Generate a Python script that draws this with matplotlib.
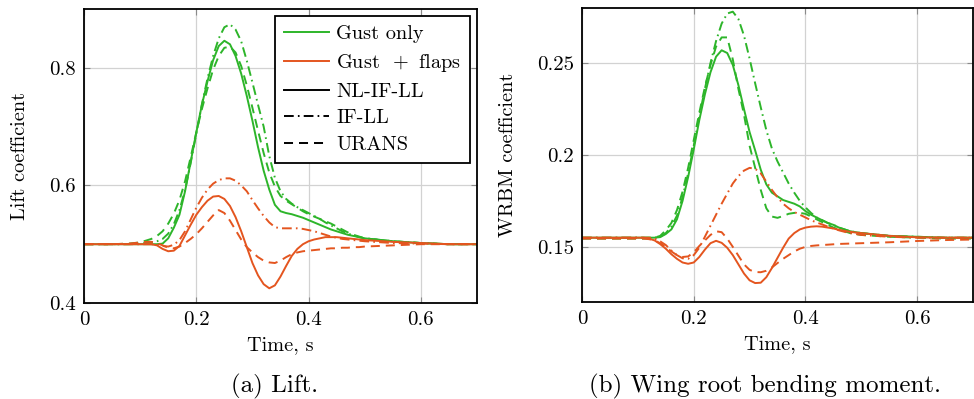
import matplotlib
matplotlib.use("Agg")
import matplotlib.pyplot as plt
from matplotlib.lines import Line2D
from matplotlib.ticker import FuncFormatter

plt.rcParams['font.family'] = 'serif'
plt.rcParams['font.serif'] = ['cmr10']
plt.rcParams['axes.formatter.use_mathtext'] = True
plt.rcParams['mathtext.fontset'] = 'cm'
plt.rcParams['lines.scale_dashes'] = False

GREEN = '#2db52a'
ORANGE = '#e4551f'

# time samples, s
time = [0, 0.05, 0.08, 0.10, 0.11, 0.12, 0.13, 0.14, 0.15, 0.16,
        0.17, 0.18, 0.19, 0.20, 0.21, 0.22, 0.23, 0.24, 0.25, 0.26,
        0.27, 0.28, 0.29, 0.30, 0.31, 0.32, 0.33, 0.34, 0.35, 0.36,
        0.37, 0.38, 0.39, 0.40, 0.41, 0.42, 0.43, 0.44, 0.45, 0.46,
        0.47, 0.48, 0.49, 0.50, 0.55, 0.60, 0.65, 0.70]

# lift coefficient, gust only
lift_gust_nl = [0.5, 0.5, 0.5, 0.5, 0.5, 0.5, 0.5, 0.501, 0.51, 0.528,
                0.55, 0.59, 0.64, 0.69, 0.737, 0.777, 0.813, 0.837, 0.846, 0.84,
                0.82, 0.79, 0.752, 0.71, 0.665, 0.625, 0.593, 0.567, 0.556, 0.553,
                0.551, 0.548, 0.545, 0.541, 0.537, 0.533, 0.529, 0.525, 0.522, 0.519,
                0.516, 0.514, 0.512, 0.51, 0.505, 0.502, 0.5, 0.5]
lift_gust_ifll = [0.5, 0.5, 0.5, 0.501, 0.502, 0.503, 0.505, 0.509, 0.518, 0.534,
                  0.558, 0.592, 0.638, 0.688, 0.738, 0.782, 0.82, 0.85, 0.869, 0.874,
                  0.865, 0.845, 0.812, 0.775, 0.737, 0.70, 0.65, 0.613, 0.59, 0.577,
                  0.569, 0.563, 0.558, 0.553, 0.548, 0.543, 0.537, 0.532, 0.527, 0.522,
                  0.518, 0.515, 0.512, 0.51, 0.505, 0.502, 0.5, 0.5]
lift_gust_urans = [0.5, 0.5, 0.501, 0.503, 0.506, 0.509, 0.514, 0.522, 0.535, 0.552,
                   0.575, 0.607, 0.648, 0.69, 0.73, 0.765, 0.797, 0.82, 0.834, 0.836,
                   0.826, 0.803, 0.77, 0.732, 0.693, 0.655, 0.622, 0.598, 0.582, 0.574,
                   0.568, 0.562, 0.556, 0.551, 0.547, 0.543, 0.539, 0.535, 0.53, 0.525,
                   0.52, 0.516, 0.513, 0.51, 0.505, 0.502, 0.5, 0.5]

# lift coefficient, gust + flaps
lift_flap_nl = [0.5, 0.5, 0.5, 0.5, 0.5, 0.5, 0.498, 0.492, 0.488, 0.489,
                0.497, 0.515, 0.533, 0.55, 0.563, 0.574, 0.581, 0.582, 0.577, 0.565,
                0.546, 0.522, 0.495, 0.468, 0.447, 0.432, 0.425, 0.43, 0.445, 0.463,
                0.48, 0.492, 0.5, 0.505, 0.508, 0.51, 0.512, 0.512, 0.512, 0.511,
                0.51, 0.509, 0.508, 0.507, 0.504, 0.502, 0.5, 0.5]
lift_flap_ifll = [0.5, 0.5, 0.5, 0.5, 0.5, 0.5, 0.499, 0.497, 0.496, 0.499,
                  0.507, 0.522, 0.542, 0.562, 0.579, 0.593, 0.603, 0.609, 0.612, 0.612,
                  0.608, 0.6, 0.59, 0.575, 0.561, 0.548, 0.537, 0.529, 0.527, 0.527,
                  0.527, 0.527, 0.526, 0.524, 0.522, 0.519, 0.516, 0.513, 0.511, 0.509,
                  0.508, 0.507, 0.506, 0.505, 0.502, 0.501, 0.5, 0.5]
lift_flap_urans = [0.5, 0.5, 0.501, 0.503, 0.504, 0.504, 0.502, 0.498, 0.494, 0.493,
                   0.496, 0.502, 0.509, 0.517, 0.527, 0.538, 0.549, 0.558, 0.553, 0.54,
                   0.524, 0.508, 0.495, 0.486, 0.478, 0.472, 0.469, 0.468, 0.472, 0.478,
                   0.483, 0.486, 0.488, 0.489, 0.49, 0.491, 0.492, 0.493, 0.493, 0.494,
                   0.494, 0.495, 0.495, 0.496, 0.498, 0.5, 0.5, 0.5]

# WRBM coefficient, gust only
wrbm_gust_nl = [0.155, 0.155, 0.155, 0.155, 0.155, 0.155, 0.155, 0.1553, 0.157, 0.1595,
                0.165, 0.175, 0.188, 0.203, 0.219, 0.233, 0.245, 0.2535, 0.257, 0.2555,
                0.249, 0.238, 0.225, 0.2125, 0.2025, 0.192, 0.184, 0.1795, 0.1775, 0.1755,
                0.1745, 0.1735, 0.172, 0.1695, 0.1675, 0.166, 0.1645, 0.163, 0.162, 0.1605,
                0.1595, 0.1585, 0.158, 0.1575, 0.156, 0.1555, 0.155, 0.155]
wrbm_gust_ifll = [0.155, 0.155, 0.155, 0.155, 0.155, 0.155, 0.155, 0.1555, 0.1575, 0.161,
                  0.167, 0.177, 0.19, 0.205, 0.221, 0.236, 0.25, 0.262, 0.2715, 0.277,
                  0.278, 0.274, 0.265, 0.2525, 0.239, 0.226, 0.2135, 0.2035, 0.1965, 0.1905,
                  0.1845, 0.1795, 0.175, 0.1715, 0.1685, 0.166, 0.1645, 0.163, 0.162, 0.1605,
                  0.1595, 0.1585, 0.158, 0.1575, 0.156, 0.1555, 0.155, 0.155]
wrbm_gust_urans = [0.1545, 0.1545, 0.1545, 0.1545, 0.1545, 0.1545, 0.155, 0.156, 0.159, 0.163,
                   0.17, 0.18, 0.193, 0.208, 0.223, 0.237, 0.249, 0.259, 0.264, 0.264,
                   0.252, 0.236, 0.222, 0.205, 0.193, 0.181, 0.171, 0.1665, 0.1658, 0.1668,
                   0.168, 0.1685, 0.1685, 0.168, 0.1665, 0.165, 0.1635, 0.162, 0.1605, 0.1595,
                   0.1585, 0.1575, 0.157, 0.1565, 0.1555, 0.155, 0.1545, 0.1545]

# WRBM coefficient, gust + flaps
wrbm_flap_nl = [0.155, 0.155, 0.155, 0.155, 0.155, 0.1545, 0.1535, 0.1515, 0.149, 0.146,
                0.1435, 0.1415, 0.1408, 0.1415, 0.1445, 0.1485, 0.152, 0.1533, 0.1522, 0.1495,
                0.1455, 0.1405, 0.1355, 0.1318, 0.1303, 0.1305, 0.1335, 0.1385, 0.144, 0.1495,
                0.1545, 0.1575, 0.1595, 0.1605, 0.161, 0.1612, 0.161, 0.1605, 0.16, 0.1593,
                0.1587, 0.1582, 0.1578, 0.1575, 0.156, 0.1552, 0.155, 0.155]
wrbm_flap_ifll = [0.155, 0.155, 0.155, 0.155, 0.155, 0.155, 0.1545, 0.153, 0.151, 0.148,
                  0.1455, 0.1438, 0.1435, 0.1455, 0.1495, 0.1555, 0.1615, 0.1675, 0.1735, 0.179,
                  0.1845, 0.1885, 0.1915, 0.193, 0.1925, 0.19, 0.1855, 0.181, 0.177, 0.1735,
                  0.171, 0.169, 0.1675, 0.166, 0.1645, 0.1633, 0.1622, 0.161, 0.16, 0.159,
                  0.1582, 0.1575, 0.157, 0.1565, 0.1555, 0.155, 0.155, 0.155]
wrbm_flap_urans = [0.1545, 0.1545, 0.1545, 0.1545, 0.1545, 0.1542, 0.1535, 0.152, 0.15, 0.1475,
                   0.1455, 0.1445, 0.1448, 0.147, 0.1505, 0.1535, 0.1565, 0.1585, 0.158, 0.1545,
                   0.15, 0.1452, 0.1405, 0.1375, 0.1363, 0.1362, 0.137, 0.1388, 0.1412, 0.1435,
                   0.1455, 0.1475, 0.149, 0.15, 0.1505, 0.1508, 0.151, 0.1512, 0.1514, 0.1516,
                   0.1517, 0.1518, 0.1519, 0.152, 0.1525, 0.1532, 0.1537, 0.154]

x_ticks = [0, 0.2, 0.4, 0.6]
lift_ticks = [0.4, 0.6, 0.8]
wrbm_ticks = [0.15, 0.2, 0.25]

LW = 1.4
STYLES = {
    'nl': dict(linestyle='-'),
    'ifll': dict(linestyle=(0, (7, 3, 1.2, 3))),
    'urans': dict(linestyle=(0, (6.5, 4.3))),
}
FS_TICK = 15
FS = 14.6


def style_axes(ax, yticks, ylim, ylabel):
    ax.set_xlim(0, 0.7)
    ax.set_ylim(*ylim)
    ax.set_xticks(x_ticks)
    ax.set_yticks(yticks)
    fmt = FuncFormatter(lambda v, p: '%g' % v)
    ax.xaxis.set_major_formatter(fmt)
    ax.yaxis.set_major_formatter(fmt)
    ax.grid(True, color='#d2d2d2', linewidth=0.9)
    ax.set_axisbelow(True)
    ax.tick_params(direction='in', length=4, width=0.8, color='#8a8a8a',
                   top=True, right=True, labelsize=FS_TICK, pad=6)
    for s in ax.spines.values():
        s.set_linewidth(1.3)
    ax.set_xlabel('Time, s', fontsize=FS, labelpad=5)
    ax.set_ylabel(ylabel, fontsize=FS)


def plot_set(ax, series):
    for color, curves in series:
        for key, vals in curves:
            ax.plot(time, vals, color=color, linewidth=LW, **STYLES[key])


fig = plt.figure(figsize=(9.74, 3.99), dpi=100)
ax1 = fig.add_axes([84 / 974, 96 / 399, 393 / 974, 294 / 399])
ax2 = fig.add_axes([582 / 974, 97 / 399, 391 / 974, 294 / 399])

plot_set(ax1, [
    (GREEN, [('nl', lift_gust_nl), ('ifll', lift_gust_ifll), ('urans', lift_gust_urans)]),
    (ORANGE, [('nl', lift_flap_nl), ('ifll', lift_flap_ifll), ('urans', lift_flap_urans)]),
])
plot_set(ax2, [
    (GREEN, [('nl', wrbm_gust_nl), ('ifll', wrbm_gust_ifll), ('urans', wrbm_gust_urans)]),
    (ORANGE, [('nl', wrbm_flap_nl), ('ifll', wrbm_flap_ifll), ('urans', wrbm_flap_urans)]),
])

style_axes(ax1, lift_ticks, (0.4, 0.9), 'Lift coefficient')
style_axes(ax2, wrbm_ticks, (0.12, 0.28), 'WRBM coefficient')
ax1.yaxis.set_label_coords(-0.14, 0.5)
ax2.yaxis.set_label_coords(-0.166, 0.5)

handles = [
    Line2D([], [], color=GREEN, linewidth=LW, label='Gust only'),
    Line2D([], [], color=ORANGE, linewidth=LW, label='Gust $\\,+$ flaps'),
    Line2D([], [], color='black', linewidth=LW, label='NL-IF-LL', **STYLES['nl']),
    Line2D([], [], color='black', linewidth=LW, label='IF-LL', **STYLES['ifll']),
    Line2D([], [], color='black', linewidth=LW, label='URANS', **STYLES['urans']),
]
leg = ax1.legend(handles=handles, loc='upper right', fontsize=FS,
                 fancybox=False, framealpha=1, edgecolor='black',
                 handlelength=2.2, handletextpad=0.35, labelspacing=0.42,
                 borderpad=0.45, borderaxespad=0.35)
leg.get_frame().set_linewidth(1.3)

fig.text(275 / 974, 1 - 386 / 399, '(a) Lift.', fontsize=18, ha='center', va='center')
fig.text(765 / 974, 1 - 386 / 399, '(b) Wing root bending moment.', fontsize=18,
         ha='center', va='center')

fig.savefig('out.png', dpi=100)
